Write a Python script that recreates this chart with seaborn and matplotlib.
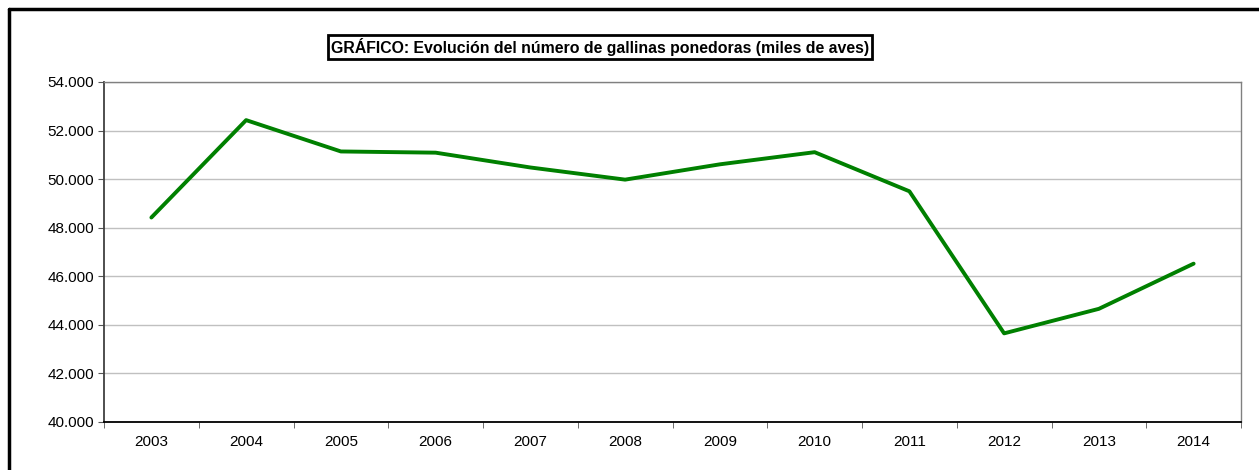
import numpy as np
import pandas as pd
import seaborn as sns
import matplotlib.pyplot as plt
from matplotlib.lines import Line2D

years = ["2003", "2004", "2005", "2006", "2007", "2008",
         "2009", "2010", "2011", "2012", "2013", "2014"]
gallinas = [48420, 52430, 51140, 51090, 50480, 49980,
            50610, 51110, 49500, 43650, 44660, 46520]
title = "GRÁFICO: Evolución del número de gallinas ponedoras (miles de aves)"

sns.set_style("white")
plt.rcParams['font.family'] = ['Liberation Sans', 'DejaVu Sans']
plt.rcParams['text.color'] = 'black'
plt.rcParams['xtick.color'] = 'black'
plt.rcParams['ytick.color'] = 'black'

df = pd.DataFrame({"year": years, "valor": gallinas})

fig = plt.figure(figsize=(12.59, 4.70), dpi=100)
ax = fig.add_axes([104/1259, 1 - 422/470, (1241-104)/1259, (422-82)/470])

sns.lineplot(data=df, x="year", y="valor", ax=ax, color="#008000", linewidth=2.8)

ax.set_xlim(-0.5, len(years) - 0.5)
ax.set_ylim(40000, 54000)
ax.set_yticks(np.arange(40000, 54001, 2000))
ax.set_yticklabels([f"{v:,.0f}".replace(",", ".") for v in range(40000, 54001, 2000)])
ax.yaxis.grid(True, color="#c0c0c0", linewidth=1)
ax.set_xlabel("")
ax.set_ylabel("")

ax.set_xticks(range(len(years)))
ax.set_xticklabels(years)
ax.set_xticks(np.arange(-0.5, len(years), 1), minor=True)
ax.tick_params(axis="x", which="major", length=0, pad=9, labelsize=11, labelcolor="black")
ax.tick_params(axis="x", which="minor", length=4, direction="out", color="#555555", bottom=True)
ax.tick_params(axis="y", which="major", length=4, direction="out", left=True, labelsize=11,
               color="#555555", labelcolor="black", pad=3)

for side in ["top", "right"]:
    ax.spines[side].set_color("#808080")
    ax.spines[side].set_linewidth(1)
ax.spines["left"].set_color("#404040")
ax.spines["left"].set_linewidth(1.3)
ax.spines["bottom"].set_color("black")
ax.spines["bottom"].set_linewidth(1.3)

fig.text(600/1259, 1 - 47/470, title, ha="center", va="center", fontsize=11.4,
         fontweight="bold", color="black",
         bbox=dict(boxstyle="square,pad=0.2", facecolor="white", edgecolor="black", linewidth=2))

# outer frame of the chart area
fig.add_artist(Line2D([9/1259, 9/1259], [0, 1 - 9/470], color="black", linewidth=2.5))
fig.add_artist(Line2D([9/1259, 1], [1 - 9/470, 1 - 9/470], color="black", linewidth=2.5))

fig.savefig("out.png", dpi=100)
